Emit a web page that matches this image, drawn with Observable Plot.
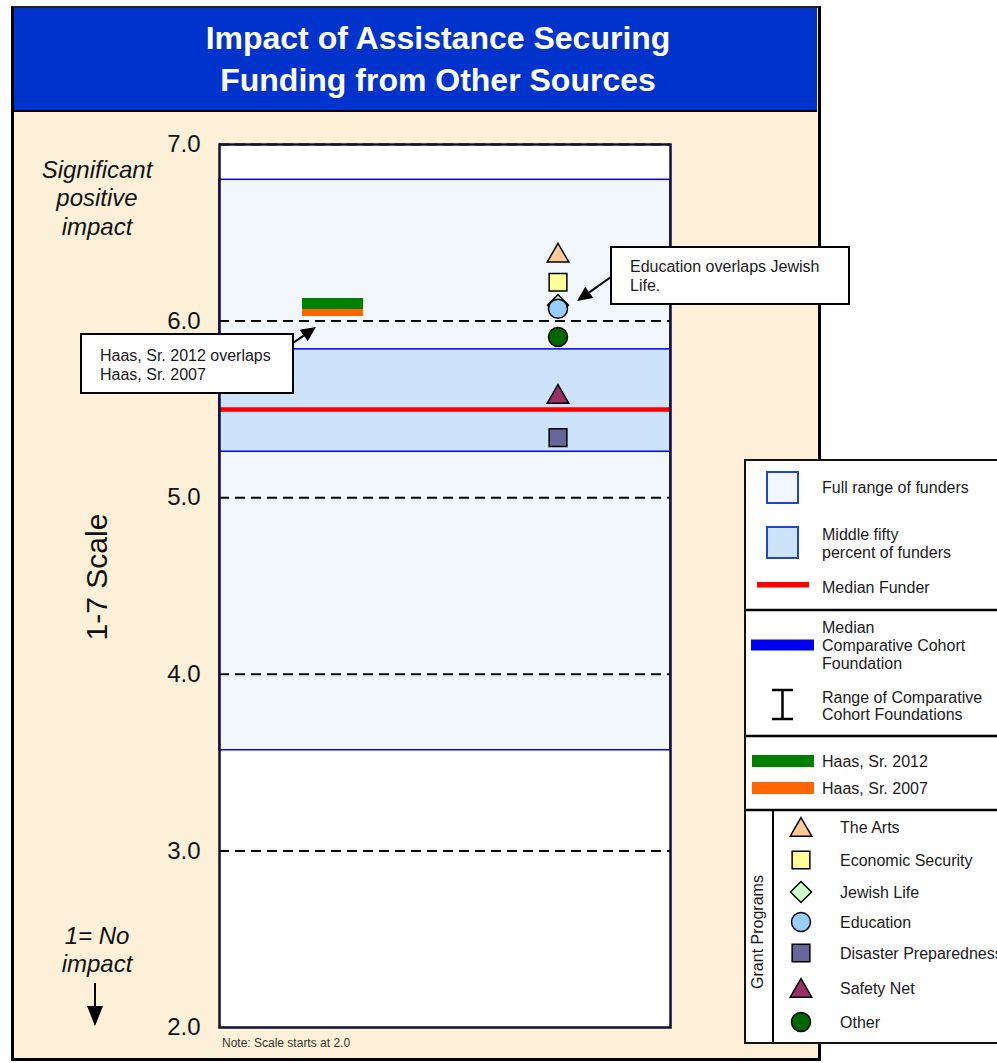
<!DOCTYPE html>
<html><head><meta charset="utf-8">
<script src="https://cdn.jsdelivr.net/npm/d3@7"></script>
<script src="https://cdn.jsdelivr.net/npm/@observablehq/plot@0.6"></script>
<style>
body{margin:0;width:997px;height:1063px;overflow:hidden;background:#fff;font-family:"Liberation Sans",Arial,Helvetica,sans-serif;}
#page{position:relative;width:997px;height:1063px;overflow:hidden;}
.abs{position:absolute;}
#frame{left:11px;top:6px;width:810px;height:1055px;box-sizing:border-box;border:3px solid #000;border-top:2px solid #222;background:#fcf1d8;}
#titlebar{left:14px;top:8px;width:803px;height:102px;background:#0033cc;border-bottom:2px solid #000;}
#title{left:14px;top:17px;width:848px;text-align:center;color:#fff;font-weight:bold;font-size:32px;line-height:42px;}
.side{left:37px;width:120px;text-align:center;font-style:italic;font-size:24px;line-height:28.5px;color:#111;}
#scale{left:97px;top:577px;transform:translate(-50%,-50%) rotate(-90deg);font-size:30px;white-space:nowrap;color:#111;}
#note{left:222px;top:1036px;font-size:12px;color:#333;}
</style></head>
<body><div id="page">
<div id="frame" class="abs"></div>
<div id="titlebar" class="abs"></div>
<div id="title" class="abs">Impact of Assistance Securing<br>Funding from Other Sources</div>
<div class="abs side" style="top:155.5px">Significant<br>positive<br>impact</div>
<div id="scale" class="abs">1-7 Scale</div>
<div class="abs side" style="top:921.5px">1= No<br>impact</div>
<div id="note" class="abs">Note: Scale starts at 2.0</div>
</div>
<script>
// ---- data ----
const tickValues = [2, 3, 4, 5, 6, 7];
const gridValues = [3, 4, 5, 6, 7];
const fullRange = [3.57, 6.80];
const middleFifty = [5.26, 5.84];
const medianFunder = [5.50];
const columns = ["Haas, Sr.", "Grant Programs"];
const haasYears = ["Haas, Sr. 2007", "Haas, Sr. 2012"];
const haasValues = [6.06, 6.10];
const haasColors = ["#ff6600", "#008000"];
const programs = ["The Arts", "Economic Security", "Jewish Life", "Education", "Disaster Preparedness", "Safety Net", "Other"];
const programValues = [6.37, 6.22, 6.09, 6.07, 5.34, 5.57, 5.91];
const programColors = ["#ffc896", "#ffff99", "#ccffcc", "#99ccff", "#666699", "#993366", "#006600"];
const programSymbols = ["triangle", "square", "diamond2", "circle", "square", "triangle", "circle"];
const symbolR = {triangle: 8, square: 10, diamond2: 9.5, circle: 9.5};

const haasData = haasYears.map((k, i) => ({key: k, value: haasValues[i], column: columns[0]}));
const progData = programs.map((p, i) => ({program: p, value: programValues[i], column: columns[1]}));

const W = 997, H = 1063;
const plot = Plot.plot({
  width: W, height: H,
  marginLeft: 219, marginRight: 327, marginTop: 144, marginBottom: 36,
  style: {background: "transparent", fontFamily: "'Liberation Sans', Arial, sans-serif", fontSize: "24px", color: "#111", overflow: "visible"},
  x: {type: "band", domain: columns, padding: 0, axis: null},
  y: {domain: [2, 7], ticks: tickValues, tickFormat: d3.format(".1f"), tickSize: 0, tickPadding: 19, label: null},
  color: {domain: programs, range: programColors},
  symbol: {domain: programs, range: programSymbols},
  marks: [
    Plot.frame({fill: "white"}),
    Plot.barY([fullRange], {y1: d => d[0], y2: d => d[1], fill: "#f2f7fe", stroke: "#0000ff", strokeWidth: 1.5}),
    Plot.barY([middleFifty], {y1: d => d[0], y2: d => d[1], fill: "#cce3fa", stroke: "#0000ff", strokeWidth: 1.5}),
    Plot.ruleY(gridValues, {stroke: "black", strokeWidth: 2, strokeDasharray: "10,6"}),
    Plot.ruleY(medianFunder, {stroke: "#ff0000", strokeWidth: 4.5}),
    Plot.frame({stroke: "#111133", strokeWidth: 2.5}),
    ...haasData.map((d, i) => Plot.tickY([d], {x: "column", y: "value", stroke: haasColors[i], strokeWidth: 11, insetLeft: 82, insetRight: 82})),
    ...programs.map((p, i) => Plot.dot(progData.filter(d => d.program === p), {
      x: "column", y: "value", fill: "program", symbol: "program",
      r: symbolR[programSymbols[i]], stroke: "black", strokeWidth: 1.5
    }))
  ]
});
plot.style.position = "absolute";
plot.style.left = "0px";
plot.style.top = "0px";
plot.style.maxWidth = "none";
document.getElementById("page").appendChild(plot);

// ---- overlay: legend, annotations, arrows ----
const ov = d3.create("svg").attr("width", W).attr("height", H)
  .style("position", "absolute").style("left", "0px").style("top", "0px")
  .style("font-family", "'Liberation Sans', Arial, sans-serif");

function arrow(g, x1, y1, x2, y2, hl, hw) {
  const dx = x2 - x1, dy = y2 - y1, L = Math.hypot(dx, dy);
  const ux = dx / L, uy = dy / L, px = -uy, py = ux;
  const bx = x2 - hl * ux, by = y2 - hl * uy;
  g.append("line").attr("x1", x1).attr("y1", y1).attr("x2", bx).attr("y2", by).attr("stroke", "black").attr("stroke-width", 2);
  g.append("polygon").attr("points", [[x2, y2], [bx + hw * px, by + hw * py], [bx - hw * px, by - hw * py]].map(p => p.join(",")).join(" ")).attr("fill", "black");
}
function txt(g, x, y, s, size) {
  return g.append("text").attr("x", x).attr("y", y).attr("dy", "0.35em").attr("font-size", size).attr("fill", "#1a1a1a").text(s);
}

// down arrow on left
arrow(ov, 95, 983, 95, 1026, 20, 8);

// annotation boxes
const notes = [
  {x: 81, y: 334, w: 212, h: 59, lines: ["Haas, Sr. 2012 overlaps", "Haas, Sr. 2007"], tx: 100, ty: 355, a: [293, 343, 316, 327]},
  {x: 611, y: 247, w: 238, h: 57, lines: ["Education overlaps Jewish", "Life."], tx: 630, ty: 266, a: [611, 277, 577, 301]}
];
notes.forEach(n => {
  ov.append("rect").attr("x", n.x).attr("y", n.y).attr("width", n.w).attr("height", n.h).attr("fill", "white").attr("stroke", "black").attr("stroke-width", 2);
  n.lines.forEach((l, i) => txt(ov, n.tx, n.ty + i * 19.5, l, "16px"));
  arrow(ov, n.a[0], n.a[1], n.a[2], n.a[3], 15, 7);
});

// legend
const lg = ov.append("g");
lg.append("rect").attr("x", 745).attr("y", 460).attr("width", 300).attr("height", 583).attr("fill", "white").attr("stroke", "#111").attr("stroke-width", 2);
[610, 736, 810].forEach(y => lg.append("line").attr("x1", 745).attr("x2", 997).attr("y1", y).attr("y2", y).attr("stroke", "black").attr("stroke-width", 2.5));
lg.append("line").attr("x1", 773).attr("x2", 773).attr("y1", 811).attr("y2", 1043).attr("stroke", "black").attr("stroke-width", 2);

const LX = 822, FS = "16px";
lg.append("rect").attr("x", 767).attr("y", 472).attr("width", 31).attr("height", 31).attr("fill", "#f2f7fe").attr("stroke", "#1f47cc").attr("stroke-width", 2);
txt(lg, LX, 487, "Full range of funders", FS);
lg.append("rect").attr("x", 767).attr("y", 527).attr("width", 31).attr("height", 31).attr("fill", "#cce3fa").attr("stroke", "#1f47cc").attr("stroke-width", 2);
txt(lg, LX, 534, "Middle fifty", FS);
txt(lg, LX, 552, "percent of funders", FS);
lg.append("rect").attr("x", 757).attr("y", 582).attr("width", 52).attr("height", 5.5).attr("fill", "#ff0000");
txt(lg, LX, 587, "Median Funder", FS);
lg.append("rect").attr("x", 751).attr("y", 639.5).attr("width", 63).attr("height", 11).attr("fill", "#0000ee");
txt(lg, LX, 627, "Median", FS);
txt(lg, LX, 645, "Comparative Cohort", FS);
txt(lg, LX, 663, "Foundation", FS);
lg.append("path").attr("d", "M772,690H793M782.5,690V719M772,719H793").attr("stroke", "black").attr("stroke-width", 2.5).attr("fill", "none");
txt(lg, LX, 697, "Range of Comparative", FS);
txt(lg, LX, 714, "Cohort Foundations", FS);
const haasLegY = [788, 761];
haasYears.forEach((k, i) => {
  lg.append("rect").attr("x", 752).attr("y", haasLegY[i] - 6).attr("width", 62).attr("height", 12).attr("fill", haasColors[i]);
  txt(lg, LX, haasLegY[i], k, FS);
});
lg.append("text").attr("transform", "translate(763,932) rotate(-90)").attr("text-anchor", "middle").attr("font-size", FS).attr("fill", "#1a1a1a").text("Grant Programs");
const symMap = {triangle: d3.symbolTriangle, square: d3.symbolSquare, diamond2: d3.symbolDiamond2, circle: d3.symbolCircle};
const progLegY = [827, 860, 892, 922, 953, 988, 1022];
programs.forEach((p, i) => {
  const s = programSymbols[i], r = symbolR[s];
  const y = progLegY[i] + (s === "triangle" ? 3 : 0);
  lg.append("path").attr("transform", `translate(801,${y})`).attr("d", d3.symbol(symMap[s], Math.PI * r * r)())
    .attr("fill", programColors[i]).attr("stroke", "black").attr("stroke-width", 1.5);
  txt(lg, 840, progLegY[i], p, FS);
});

document.getElementById("page").appendChild(ov.node());
</script>
</body></html>
